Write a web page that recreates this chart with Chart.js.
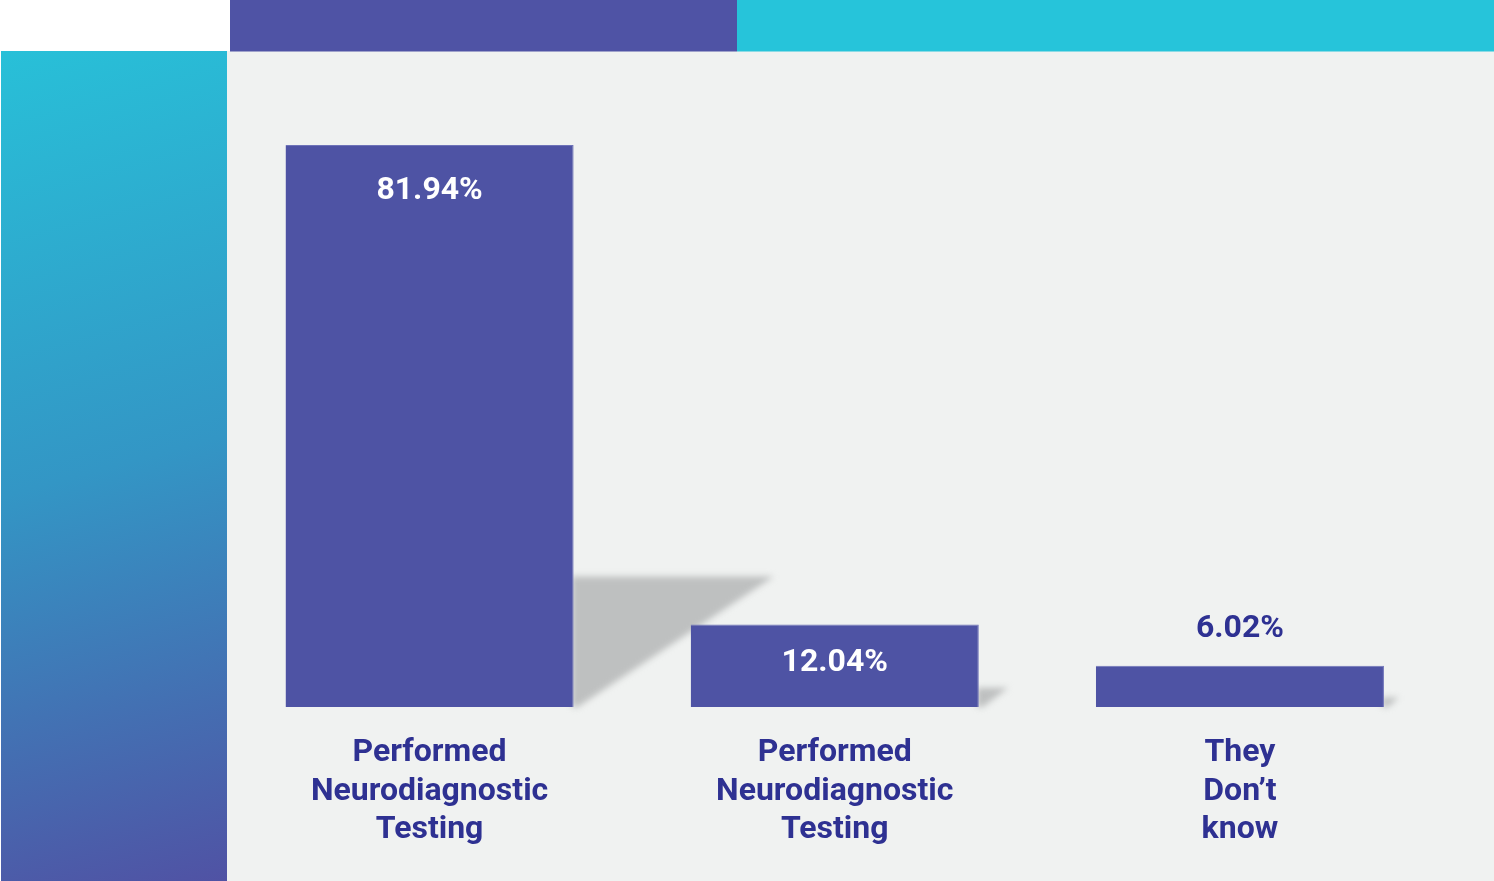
<!DOCTYPE html>
<html>
<head>
<meta charset="utf-8">
<script src="https://cdn.jsdelivr.net/npm/chart.js@4/dist/chart.umd.min.js"></script>
<style>
  html, body { margin: 0; padding: 0; background: #ffffff; }
  #wrap { position: relative; width: 1494px; height: 881px; }
  canvas { display: block; }
</style>
</head>
<body>
<div id="wrap"><canvas id="c" width="1494" height="881"></canvas></div>
<script>
const categories = [
  ["Performed", "Neurodiagnostic", "Testing"],
  ["Performed", "Neurodiagnostic", "Testing"],
  ["They", "Don\u2019t", "know"]
];
const values = [81.94, 12.04, 6.02];
const valueLabels = ["81.94%", "12.04%", "6.02%"];

const BAR = '#4E53A4';
const DARK = '#2E3192';
const FONT = 'Roboto, "Noto Sans", sans-serif';

const backgroundPlugin = {
  id: 'bgDecor',
  beforeDraw(chart) {
    const ctx = chart.ctx;
    ctx.save();
    ctx.fillStyle = '#ffffff';
    ctx.fillRect(0, 0, 1494, 881);
    ctx.fillStyle = '#F0F2F1';
    ctx.fillRect(227, 51, 1494 - 227, 881 - 51);
    ctx.fillStyle = '#4F53A5';
    ctx.fillRect(230, 0, 507, 51.5);
    ctx.fillStyle = '#26C4DA';
    ctx.fillRect(737, 0, 1494 - 737, 51.5);
    const g = ctx.createLinearGradient(0, 51, 227, 881);
    g.addColorStop(0, '#28C0D8');
    g.addColorStop(0.5, '#3396C5');
    g.addColorStop(1, '#5052A4');
    ctx.fillStyle = g;
    ctx.fillRect(1, 51, 226, 830);
    ctx.restore();
  },
  beforeDatasetsDraw(chart) {
    const ctx = chart.ctx;
    const meta = chart.getDatasetMeta(0);
    ctx.save();
    ctx.filter = 'blur(3px)';
    ctx.fillStyle = '#BEC0C0';
    meta.data.forEach((bar) => {
      const right = bar.x + bar.width / 2;
      const h = bar.base - bar.y;
      const sh = h * 0.232;
      const sw = h * 0.356;
      ctx.beginPath();
      ctx.moveTo(right - 2, bar.base - sh);
      ctx.lineTo(right + sw, bar.base - sh);
      ctx.lineTo(right + 4, bar.base);
      ctx.lineTo(right - 2, bar.base);
      ctx.closePath();
      ctx.fill();
    });
    ctx.restore();
  },
  afterDatasetsDraw(chart) {
    const ctx = chart.ctx;
    const meta = chart.getDatasetMeta(0);
    ctx.save();
    ctx.font = 'bold 32px ' + FONT;
    ctx.textAlign = 'center';
    ctx.textBaseline = 'middle';
    meta.data.forEach((bar, i) => {
      const h = bar.base - bar.y;
      if (h > 60) {
        ctx.fillStyle = '#ffffff';
        const off = h > 200 ? 46 : 39;
        ctx.fillText(valueLabels[i], bar.x, bar.y + off);
      } else {
        ctx.fillStyle = DARK;
        ctx.fillText(valueLabels[i], bar.x, bar.y - 37);
      }
    });
    ctx.restore();
  }
};

new Chart(document.getElementById('c'), {
  type: 'bar',
  data: {
    labels: categories,
    datasets: [{
      data: values,
      backgroundColor: BAR,
      borderColor: '#6E73B8',
      borderWidth: { top: 1, right: 1, left: 0, bottom: 0 },
      borderSkipped: false,
      categoryPercentage: 1.0,
      barPercentage: 0.711
    }]
  },
  options: {
    responsive: false,
    animation: false,
    devicePixelRatio: 1,
    layout: { padding: { left: 227, right: 51.5, top: 21, bottom: 0 } },
    plugins: { legend: { display: false }, tooltip: { enabled: false } },
    scales: {
      y: { display: false, min: 0, max: 100 },
      x: {
        grid: { display: false, drawTicks: false },
        border: { display: false },
        ticks: {
          color: DARK,
          font: { family: FONT, size: 32, weight: 'bold', lineHeight: 1.2 },
          padding: 27,
          maxRotation: 0,
          autoSkip: false
        },
        afterFit(scale) { scale.height = 174; }
      }
    }
  },
  plugins: [backgroundPlugin]
});
</script>
</body>
</html>
